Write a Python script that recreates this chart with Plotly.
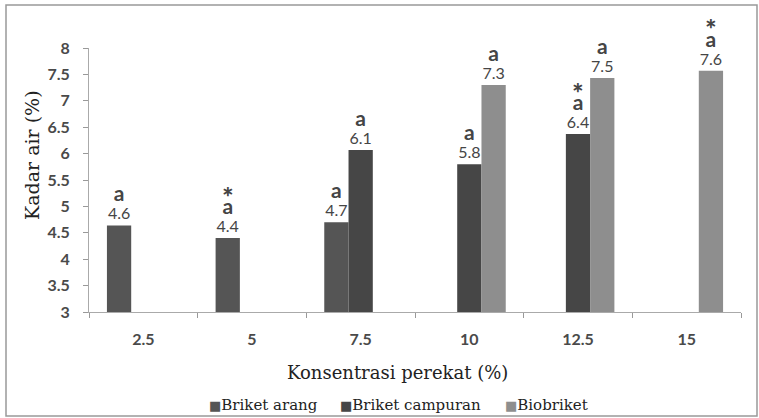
import plotly.graph_objects as go

categories = ["2.5", "5", "7.5", "10", "12.5", "15"]
series_names = ["Briket arang", "Briket campuran", "Biobriket"]
arang = [4.64, 4.40, 4.70, None, None, None]
campuran = [None, None, 6.07, 5.80, 6.37, None]
biobriket = [None, None, None, 7.30, 7.43, 7.57]
arang_labels = ["4.6", "4.4", "4.7", "", "", ""]
campuran_labels = ["", "", "6.1", "5.8", "6.4", ""]
bio_labels = ["", "", "", "7.3", "7.5", "7.6"]
arang_letters = ["a", "a", "a", "", "", ""]
campuran_letters = ["", "", "a", "a", "a", ""]
bio_letters = ["", "", "", "a", "a", "a"]
arang_stars = ["", "∗", "", "", "", ""]
campuran_stars = ["", "", "", "", "∗", ""]
bio_stars = ["", "", "", "", "", "∗"]

colors = ["#555555", "#464646", "#8e8e8e"]
legend_x = [207, 338, 503]


def build_text(labels, letters, stars):
    out = []
    for lab, let, st in zip(labels, letters, stars):
        if not lab:
            out.append("")
            continue
        t = ""
        if st:
            t += '<span style="font-size:14px"><b>' + st + "</b></span><br>"
        t += '<span style="font-size:21px"><b>' + let + "</b></span><br>"
        t += '<span style="font-size:16px">' + lab + "</span>"
        out.append(t)
    return out


fig = go.Figure()
for name, vals, labs, lets, stars, col in [
    (series_names[0], arang, arang_labels, arang_letters, arang_stars, colors[0]),
    (series_names[1], campuran, campuran_labels, campuran_letters, campuran_stars, colors[1]),
    (series_names[2], biobriket, bio_labels, bio_letters, bio_stars, colors[2]),
]:
    fig.add_trace(go.Bar(
        name=name, x=categories, y=vals,
        marker=dict(color=col, line=dict(width=0)),
        text=build_text(labs, lets, stars),
        textposition="outside", constraintext="none", cliponaxis=False,
        textfont=dict(family="Lato", size=14, color="#454545"),
        showlegend=False,
    ))

annotations = [
    dict(text="Kadar air (%)", xref="paper", yref="paper", x=(32 - 89) / 652,
         y=(312 - 155) / 264, textangle=-90, showarrow=False,
         xanchor="center", yanchor="middle",
         font=dict(family="DejaVu Serif", size=19, color="#222222")),
    dict(text="Konsentrasi perekat (%)", xref="paper", yref="paper",
         x=(397 - 89) / 652, y=(312 - 372) / 264, showarrow=False,
         xanchor="center", yanchor="middle",
         font=dict(family="DejaVu Serif", size=18, color="#222222")),
]
for name, col, lx in zip(series_names, colors, legend_x):
    annotations.append(dict(
        text='<span style="color:' + col + '; font-size:13px">■</span>' + name,
        xref="paper", yref="paper", x=(lx - 89) / 652, y=(312 - 405) / 264,
        xanchor="left", yanchor="middle", showarrow=False,
        font=dict(family="DejaVu Serif", size=15, color="#222222")))

fig.update_layout(
    width=759, height=418,
    margin=dict(l=89, r=18, t=48, b=106, autoexpand=False),
    paper_bgcolor="white", plot_bgcolor="white",
    barmode="group", bargap=0.33, bargroupgap=0,
    showlegend=False,
    xaxis=dict(type="category", tickson="boundaries", ticks="outside", ticklen=5,
               tickcolor="#999999", showline=True, linecolor="#aaaaaa", linewidth=1,
               showgrid=False, ticklabelstandoff=13,
               tickfont=dict(family="Lato", size=16, color="#4a4a4a", weight="bold")),
    yaxis=dict(range=[3, 8], dtick=0.5, ticks="outside", ticklen=5, tickcolor="#999999",
               showline=True, linecolor="#aaaaaa", linewidth=1, showgrid=False,
               zeroline=False, ticklabelstandoff=10,
               tickfont=dict(family="Lato", size=16, color="#4a4a4a", weight="bold")),
    annotations=annotations,
    shapes=[dict(type="rect", xref="paper", yref="paper",
                 x0=(6 - 89) / 652, x1=(757 - 89) / 652,
                 y0=(312 - 416) / 264, y1=(312 - 5) / 264,
                 line=dict(color="#999999", width=1.5))],
)

fig.write_html("out.html", config={"displayModeBar": False},
               post_script="document.body.style.margin='0';")
